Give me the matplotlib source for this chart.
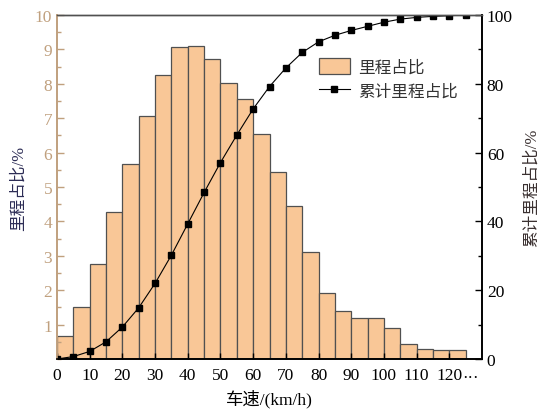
import matplotlib
matplotlib.use('Agg')
import matplotlib.pyplot as plt
from matplotlib.ticker import MultipleLocator

plt.rcParams['font.family'] = ['Liberation Serif', 'Noto Sans CJK SC']
plt.rcParams['axes.unicode_minus'] = False

# --- data ---
bin_left = [0, 5, 10, 15, 20, 25, 30, 35, 40, 45, 50, 55, 60, 65, 70, 75, 80, 85, 90, 95, 100, 105, 110, 115, 120]
share = [0.68, 1.52, 2.77, 4.28, 5.66, 7.07, 8.25, 9.07, 9.11, 8.71, 8.02, 7.55, 6.55, 5.44, 4.45,
         3.10, 1.92, 1.39, 1.19, 1.20, 0.91, 0.43, 0.30, 0.27, 0.27]
cum_x = [0, 5, 10, 15, 20, 25, 30, 35, 40, 45, 50, 55, 60, 65, 70, 75, 80, 85, 90, 95, 100, 105, 110, 115, 120, 125]
cum_share = [0, 0.7, 2.2, 5.0, 9.3, 14.9, 22.0, 30.2, 39.3, 48.4, 57.1, 65.1, 72.7, 79.2, 84.6, 89.1,
             92.2, 94.1, 95.5, 96.7, 97.9, 98.8, 99.3, 99.6, 99.8, 100]
x_ticks = [0, 10, 20, 30, 40, 50, 60, 70, 80, 90, 100, 110, 120]
x_ticklabels = ['0', '10', '20', '30', '40', '50', '60', '70', '80', '90', '100', '110', '120']

tan = '#c0a07e'
bar_color = '#f9c797'

fig = plt.figure(figsize=(5.4, 4.1), dpi=100)
ax = fig.add_axes([0.1056, 0.122, 0.787, 0.839])
ax2 = ax.twinx()

ax.bar(bin_left, share, width=5, align='edge', color=bar_color, edgecolor='#505050',
       linewidth=0.9, label='里程占比')
ax2.plot(cum_x, cum_share, color='black', lw=0.8, marker='s', ms=3.8, label='累计里程占比')

ax.set_xlim(0, 130)
ax.set_ylim(0, 10)
ax2.set_ylim(0, 100)

ax.set_xticks(x_ticks)
ax.set_xticklabels(x_ticklabels)
ax.text(124, -0.33, '···', ha='left', va='top', fontsize=12)
ax.yaxis.set_major_locator(MultipleLocator(1))
ax.yaxis.set_minor_locator(MultipleLocator(0.5))
ax.set_yticks([1, 2, 3, 4, 5, 6, 7, 8, 9, 10])
ax2.yaxis.set_major_locator(MultipleLocator(20))
ax2.yaxis.set_minor_locator(MultipleLocator(10))

ax.tick_params(axis='x', direction='in', length=4, width=1.0, labelsize=12.5, pad=6)
ax.tick_params(axis='y', which='major', direction='in', length=5, width=1.0, colors=tan,
               labelsize=12.5, labelcolor=tan)
ax.tick_params(axis='y', which='minor', direction='in', length=3, width=1.0, colors=tan)
ax2.tick_params(axis='y', which='major', direction='in', length=5, width=1.0, labelsize=12.5)
ax2.tick_params(axis='y', which='minor', direction='in', length=3, width=1.0)

for a in (ax, ax2):
    a.spines['left'].set_color(tan)
    a.spines['left'].set_linewidth(1.2)
    a.spines['right'].set_linewidth(1.2)
    a.spines['bottom'].set_linewidth(1.2)
    a.spines['top'].set_color('#505050')
    a.spines['top'].set_linewidth(1.0)

ax.set_xlabel('车速/(km/h)', fontsize=12.5, labelpad=4)
ax.set_ylabel('里程占比/%', fontsize=12, color='#2c2c55', labelpad=6)
ax2.set_ylabel('累计里程占比/%', fontsize=12, color='#3a3030', rotation=90, labelpad=8)

h1, l1 = ax.get_legend_handles_labels()
h2, l2 = ax2.get_legend_handles_labels()
ax2.legend(h1 + h2, l1 + l2, loc='upper left', bbox_to_anchor=(0.58, 0.92), frameon=False,
           fontsize=12, handlelength=1.9, handleheight=1.1, handletextpad=0.5, labelspacing=0.4,
           labelcolor='#333333')

fig.savefig('out.png', dpi=100)
